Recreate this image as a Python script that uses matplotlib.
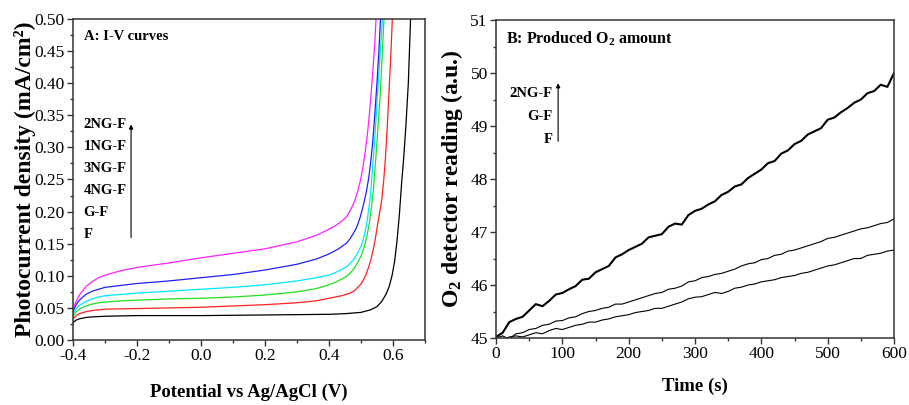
import numpy as np
import matplotlib
matplotlib.use('Agg')
import matplotlib.pyplot as plt
from matplotlib.ticker import MultipleLocator

plt.rcParams['font.family'] = ['Liberation Serif', 'DejaVu Serif']
plt.rcParams['mathtext.fontset'] = 'custom'
plt.rcParams['mathtext.rm'] = 'Liberation Serif'
plt.rcParams['mathtext.bf'] = 'Liberation Serif:bold'

# ---- panel A: I-V curves (potential V, current mA/cm2) ----
v_2ng = [-0.40, -0.39, -0.38, -0.36, -0.34, -0.32, -0.30, -0.25, -0.20, -0.10, 0.00, 0.10, 0.20, 0.30,
         0.36, 0.39, 0.42, 0.44, 0.455, 0.468, 0.48, 0.49, 0.50, 0.507, 0.513, 0.52, 0.526, 0.532, 0.538, 0.543, 0.547, 0.552]
j_2ng = [0.048, 0.060, 0.070, 0.083, 0.091, 0.097, 0.101, 0.108, 0.113, 0.120, 0.128, 0.135, 0.142, 0.153,
         0.163, 0.170, 0.178, 0.185, 0.192, 0.203, 0.216, 0.232, 0.252, 0.272, 0.292, 0.320, 0.350, 0.385, 0.425, 0.460, 0.500, 0.550]

v_1ng = [-0.40, -0.39, -0.38, -0.36, -0.34, -0.32, -0.30, -0.25, -0.20, -0.10, 0.00, 0.10, 0.20, 0.30,
         0.36, 0.40, 0.43, 0.455, 0.465, 0.475, 0.483, 0.49, 0.498, 0.505, 0.512, 0.518, 0.525, 0.531, 0.537, 0.543, 0.55, 0.556, 0.561, 0.566]
j_1ng = [0.045, 0.055, 0.062, 0.071, 0.076, 0.079, 0.082, 0.085, 0.088, 0.092, 0.097, 0.102, 0.109, 0.118,
         0.126, 0.134, 0.142, 0.151, 0.157, 0.165, 0.172, 0.180, 0.192, 0.205, 0.220, 0.234, 0.255, 0.280, 0.310, 0.350, 0.400, 0.450, 0.500, 0.550]

v_3ng = [-0.40, -0.39, -0.38, -0.36, -0.34, -0.32, -0.30, -0.25, -0.20, -0.10, 0.00, 0.10, 0.20, 0.30,
         0.36, 0.40, 0.42, 0.44, 0.455, 0.466, 0.478, 0.49, 0.50, 0.507, 0.515, 0.52, 0.528, 0.533, 0.538, 0.544, 0.55, 0.558, 0.567, 0.572]
j_3ng = [0.041, 0.049, 0.054, 0.060, 0.064, 0.067, 0.069, 0.071, 0.073, 0.076, 0.079, 0.082, 0.086, 0.092,
         0.097, 0.101, 0.105, 0.110, 0.114, 0.119, 0.126, 0.136, 0.146, 0.156, 0.173, 0.188, 0.218, 0.245, 0.280, 0.320, 0.370, 0.430, 0.500, 0.550]

v_4ng = [-0.40, -0.39, -0.38, -0.36, -0.34, -0.32, -0.30, -0.25, -0.20, -0.10, 0.00, 0.10, 0.20, 0.30,
         0.36, 0.40, 0.42, 0.44, 0.455, 0.466, 0.478, 0.49, 0.50, 0.507, 0.515, 0.52, 0.527, 0.533, 0.54, 0.546, 0.553, 0.56, 0.566, 0.572, 0.577]
j_4ng = [0.037, 0.044, 0.048, 0.053, 0.056, 0.058, 0.059, 0.061, 0.062, 0.064, 0.065, 0.067, 0.070, 0.075,
         0.080, 0.086, 0.090, 0.095, 0.099, 0.104, 0.111, 0.121, 0.130, 0.140, 0.154, 0.165, 0.185, 0.208, 0.240, 0.280, 0.330, 0.380, 0.440, 0.500, 0.550]

v_gf = [-0.40, -0.39, -0.38, -0.36, -0.34, -0.32, -0.30, -0.20, -0.10, 0.00, 0.10, 0.20, 0.30, 0.36,
        0.40, 0.44, 0.466, 0.48, 0.49, 0.50, 0.507, 0.515, 0.525, 0.532, 0.538, 0.545, 0.552, 0.56, 0.565, 0.571, 0.576, 0.582, 0.588, 0.593, 0.598, 0.603]
j_gf = [0.033, 0.038, 0.041, 0.044, 0.046, 0.047, 0.048, 0.049, 0.050, 0.051, 0.053, 0.055, 0.058, 0.061,
        0.065, 0.069, 0.073, 0.077, 0.082, 0.087, 0.093, 0.101, 0.115, 0.127, 0.140, 0.158, 0.180, 0.203, 0.218, 0.248, 0.280, 0.330, 0.390, 0.440, 0.500, 0.550]

v_f = [-0.40, -0.39, -0.38, -0.36, -0.34, -0.30, -0.20, 0.00, 0.20, 0.40, 0.45, 0.50, 0.53, 0.55, 0.565,
       0.578, 0.588, 0.597, 0.605, 0.612, 0.62, 0.627, 0.633, 0.640, 0.648, 0.655, 0.659]
j_f = [0.027, 0.031, 0.033, 0.035, 0.036, 0.037, 0.038, 0.038, 0.039, 0.040, 0.041, 0.043, 0.047, 0.052, 0.060,
       0.071, 0.083, 0.100, 0.122, 0.151, 0.195, 0.244, 0.280, 0.330, 0.400, 0.500, 0.550]

iv_curves = [(v_f, j_f, 'black'), (v_gf, j_gf, '#ff2020'), (v_4ng, j_4ng, '#20e020'),
             (v_3ng, j_3ng, '#00e8ff'), (v_1ng, j_1ng, '#2020ff'), (v_2ng, j_2ng, '#ff20ff')]
labels_a = ['2NG-F', '1NG-F', '3NG-F', '4NG-F', 'G-F', 'F']

# ---- panel B: O2 detector reading vs time ----
time_s = list(range(0, 610, 10))
o2_2ng = [45.02, 45.10, 45.30, 45.36, 45.40, 45.52, 45.64, 45.60, 45.70, 45.82,
          45.85, 45.92, 45.98, 46.10, 46.12, 46.24, 46.30, 46.36, 46.52, 46.58,
          46.66, 46.72, 46.78, 46.90, 46.93, 46.96, 47.10, 47.16, 47.14, 47.32,
          47.40, 47.44, 47.52, 47.58, 47.70, 47.76, 47.86, 47.90, 48.02, 48.10,
          48.18, 48.30, 48.34, 48.48, 48.54, 48.66, 48.72, 48.84, 48.90, 48.96,
          49.12, 49.16, 49.26, 49.34, 49.44, 49.50, 49.62, 49.66, 49.78, 49.74,
          50.00]
o2_gf = [45.00, 45.04, 44.98, 45.08, 45.10, 45.16, 45.18, 45.24, 45.26, 45.32,
         45.33, 45.38, 45.40, 45.46, 45.50, 45.52, 45.56, 45.58, 45.64, 45.64,
         45.68, 45.72, 45.76, 45.80, 45.84, 45.86, 45.92, 45.94, 45.98, 46.06,
         46.08, 46.14, 46.16, 46.20, 46.22, 46.26, 46.30, 46.36, 46.40, 46.42,
         46.48, 46.50, 46.56, 46.58, 46.64, 46.66, 46.70, 46.74, 46.78, 46.82,
         46.88, 46.90, 46.94, 46.98, 47.02, 47.06, 47.08, 47.12, 47.16, 47.18,
         47.25]
o2_f = [45.00, 44.98, 45.02, 45.04, 45.02, 45.06, 45.10, 45.08, 45.14, 45.18,
        45.16, 45.20, 45.24, 45.26, 45.30, 45.30, 45.34, 45.36, 45.40, 45.42,
        45.44, 45.48, 45.50, 45.52, 45.56, 45.56, 45.60, 45.64, 45.68, 45.74,
        45.77, 45.78, 45.82, 45.86, 45.84, 45.88, 45.94, 45.96, 46.00, 46.02,
        46.06, 46.08, 46.10, 46.14, 46.16, 46.18, 46.22, 46.24, 46.28, 46.32,
        46.36, 46.38, 46.42, 46.46, 46.50, 46.50, 46.56, 46.58, 46.60, 46.64,
        46.66]
labels_b = ['2NG-F', 'G-F', 'F']

fig = plt.figure(figsize=(9.09, 4.05), dpi=100)
axA = fig.add_axes([0.0803, 0.1605, 0.3872, 0.7926])
axB = fig.add_axes([0.5457, 0.1654, 0.4378, 0.785])

def style(ax):
    for s in ax.spines.values():
        s.set_linewidth(1.1)
        s.set_color('#333333')
    ax.tick_params(which='both', direction='out', top=False, right=False,
                   labelsize=12.5, color='#333333', width=1.0, pad=2)
    ax.tick_params(which='major', length=4)
    ax.tick_params(which='minor', length=2.5)

# panel A
for v, j, c in iv_curves:
    axA.plot(v, j, color=c, lw=0.9)
axA.set_xlim(-0.4, 0.7)
axA.set_ylim(0, 0.5)
axA.xaxis.set_minor_locator(MultipleLocator(0.1))
axA.yaxis.set_major_locator(MultipleLocator(0.05))
axA.yaxis.set_minor_locator(MultipleLocator(0.025))
axA.set_xticks([-0.4, -0.2, 0.0, 0.2, 0.4, 0.6])
axA.set_xticklabels(['-0.4', '-0.2', '0.0', '0.2', '0.4', '0.6'])
axA.set_yticklabels(['%.2f' % y for y in axA.get_yticks()])
style(axA)
axA.set_xlabel('Potential vs Ag/AgCl (V)', fontsize=13.5, fontweight='bold', labelpad=14)
axA.set_ylabel('Photocurrent density (mA/cm²)', fontsize=17, fontweight='bold', labelpad=-1)
axA.text(0.03, 0.945, 'A: I-V curves', transform=axA.transAxes, fontsize=10.5,
         fontweight='bold', va='center')
for k, lab in enumerate(labels_a):
    axA.text(0.03, 0.67 - k * 0.0685, lab, transform=axA.transAxes, fontsize=10.5,
             fontweight='bold', va='center')
axA.annotate('', xy=(0.165, 0.68), xytext=(0.165, 0.31), xycoords='axes fraction',
             arrowprops=dict(arrowstyle='-|>', color='black', lw=0.8,
                             mutation_scale=6))

# panel B
axB.plot(time_s, o2_2ng, color='black', lw=1.5)
axB.plot(time_s, o2_gf, color='black', lw=0.8)
axB.plot(time_s, o2_f, color='black', lw=0.8)
axB.set_xlim(0, 600)
axB.set_ylim(45, 51)
axB.xaxis.set_major_locator(MultipleLocator(100))
axB.xaxis.set_minor_locator(MultipleLocator(50))
axB.yaxis.set_major_locator(MultipleLocator(1))
axB.yaxis.set_minor_locator(MultipleLocator(0.5))
style(axB)
axB.set_xlabel('Time (s)', fontsize=13.5, fontweight='bold', labelpad=11)
axB.set_ylabel(r'$\mathbf{O_2}$ detector reading (a.u.)', fontsize=17, fontweight='bold', labelpad=4)
axB.text(0.025, 0.94, r'B: Produced $\mathbf{O_2}$ amount', transform=axB.transAxes,
         fontsize=11.5, fontweight='bold', va='center')
for k, lab in enumerate(labels_b):
    axB.text(0.143, 0.77 - k * 0.073, lab, transform=axB.transAxes, fontsize=10.5,
             fontweight='bold', va='center', ha='right')
axB.annotate('', xy=(0.156, 0.81), xytext=(0.156, 0.61), xycoords='axes fraction',
             arrowprops=dict(arrowstyle='-|>', color='black', lw=0.8,
                             mutation_scale=6))

plt.savefig('out.png', dpi=100)
